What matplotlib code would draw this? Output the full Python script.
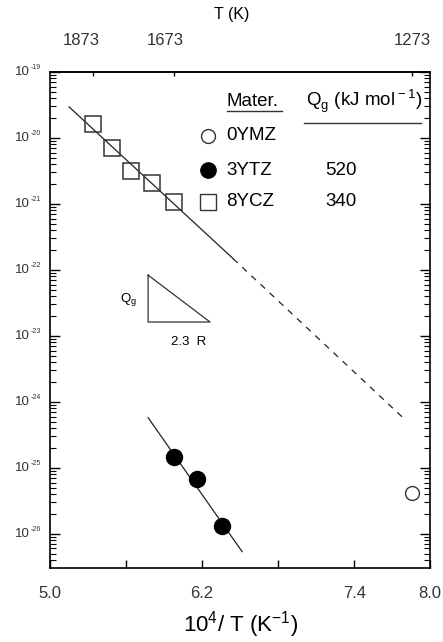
import numpy as np
import matplotlib
matplotlib.use("Agg")
import matplotlib.pyplot as plt
import matplotlib.transforms as mtrans
from matplotlib.ticker import FixedLocator, LogLocator, NullFormatter

plt.rcParams['font.family'] = ['Liberation Sans', 'DejaVu Sans']
plt.rcParams['mathtext.fontset'] = 'custom'
plt.rcParams['mathtext.rm'] = 'Liberation Sans'

# ---- data (x = 10^4 / T, y = log-scale quantity) ----
x_8ycz = [5.339, 5.485, 5.640, 5.804, 5.977]
y_8ycz = [1.6e-20, 7.1e-21, 3.2e-21, 2.1e-21, 1.07e-21]

x_3ytz = [5.977, 6.161, 6.357]
y_3ytz = [1.48e-25, 6.8e-26, 1.32e-26]

x_0ymz = [7.855]
y_0ymz = [4.1e-26]

fit8_solid_x = [5.15, 6.445]
fit8_solid_y = [10**-19.53, 10**-21.83]
fit8_dash_x = [6.445, 7.78]
fit8_dash_y = [10**-21.83, 10**-24.23]

fit3_x = [5.774, 6.516]
fit3_y = [10**-24.24, 10**-26.27]

materials = ['0YMZ', '3YTZ', '8YCZ']
q_values = ['', '520', '340']

top_T = [1873, 1673, 1273]
x_ticklabels = [5.0, 6.2, 7.4, 8.0]
x_minor = [5.6, 6.8]
y_decades = [-19, -20, -21, -22, -23, -24, -25, -26]

fig = plt.figure(figsize=(4.43, 6.42), dpi=100)
ax = fig.add_axes([0.113, 0.115, 0.858, 0.773])

ax.set_yscale('log')
ax.set_xlim(5.0, 8.0)
ax.set_ylim(10**-26.52, 1e-19)

lw = 0.9
ax.plot(fit8_solid_x, fit8_solid_y, color='#222222', lw=lw)
ax.plot(fit8_dash_x, fit8_dash_y, color='#222222', lw=lw, ls=(0, (5, 5)))
ax.plot(fit3_x, fit3_y, color='#222222', lw=lw)

ax.plot(x_8ycz, y_8ycz, ls='none', marker='s', ms=11.5, mfc='none', mec='#333333', mew=1.1)
ax.plot(x_3ytz, y_3ytz, ls='none', marker='o', ms=11.5, mfc='black', mec='black')
ax.plot(x_0ymz, y_0ymz, ls='none', marker='o', ms=10, mfc='white', mec='#333333', mew=1.0)

# triangle (slope indicator)
tri_x = [5.774, 5.774, 6.263, 5.774]
tri_y = [10**-22.08, 10**-22.79, 10**-22.79, 10**-22.08]
ax.plot(tri_x, tri_y, color='#333333', lw=lw)
ax.text(5.62, 10**-22.45, r'Q$_{\rm g}$', fontsize=9.5, ha='center', va='center')
ax.text(6.09, 10**-23.1, '2.3  R', fontsize=9.5, ha='center', va='center')

# axes styling
for s in ax.spines.values():
    s.set_linewidth(1.2)

ax.xaxis.set_major_locator(FixedLocator(x_ticklabels))
ax.xaxis.set_minor_locator(FixedLocator(x_minor))
ax.set_xticklabels(['%.1f' % v for v in x_ticklabels], fontsize=12, color='#333333')
ax.tick_params(axis='x', which='both', direction='in', length=6, width=1, pad=13, top=False)

ax.yaxis.set_major_locator(LogLocator(base=10, numticks=20))
ax.yaxis.set_minor_locator(LogLocator(base=10, subs=np.arange(2, 10), numticks=20))
ax.yaxis.set_minor_formatter(NullFormatter())
ax.yaxis.set_major_formatter(NullFormatter())
ax.tick_params(axis='y', which='major', direction='in', length=7, width=1, right=True)
ax.tick_params(axis='y', which='minor', direction='in', length=4, width=0.8, right=True)

# y tick labels: "10" with a tiny exponent
btr = mtrans.blended_transform_factory(ax.transAxes, ax.transData)
for d in y_decades:
    ax.text(-0.052, 10.0**d, '10', transform=btr, fontsize=9.5, ha='right', va='center',
            color='#333333')
    ax.text(-0.052, 10.0**(d + 0.07), str(d), transform=btr, fontsize=5, ha='left',
            va='center', color='#333333')

# top axis: temperature
ax2 = ax.secondary_xaxis('top', functions=(lambda x: x, lambda x: x))
ax2.set_xticks([1e4 / t for t in top_T])
ax2.set_xticklabels([str(t) for t in top_T], fontsize=12, color='#333333')
ax2.tick_params(direction='in', length=3, width=1, pad=17)
ax2.spines['top'].set_linewidth(1.2)
top_shift_pt = [-8.5, -6.5, 0.0]
for lab, sh in zip(ax2.get_xticklabels(), top_shift_pt):
    lab.set_transform(lab.get_transform() + mtrans.ScaledTranslation(sh / 72, 0, fig.dpi_scale_trans))
fig.text(232 / 443, 1 - 14 / 642, 'T (K)', fontsize=11.5, ha='center', va='center')

ax.set_xlabel(r'10$^4$/ T (K$^{-1}$)', fontsize=16, labelpad=6)

# legend drawn in axes coordinates
tr = ax.transAxes
leg_y = [0.871, 0.802, 0.738]
leg_markers = [dict(marker='o', ms=10, mfc='white', mec='#333333'),
               dict(marker='o', ms=11, mfc='black', mec='black'),
               dict(marker='s', ms=11.5, mfc='none', mec='#333333')]
for yy, name, q, mk in zip(leg_y, materials, q_values, leg_markers):
    ax.plot([0.416], [yy], transform=tr, ls='none', mew=1.0, **mk)
    ax.text(0.463, yy, name, transform=tr, fontsize=13.5, va='center', ha='left')
    if q:
        ax.text(0.765, yy, q, transform=tr, fontsize=13.5, va='center', ha='center')

ax.text(0.463, 0.940, 'Mater.', transform=tr, fontsize=13.5, va='center', ha='left')
ax.plot([0.466, 0.61], [0.921, 0.921], transform=tr, color='#333333', lw=1.0)
ax.text(0.674, 0.940, r'Q$_{\rm g}$ (kJ mol$^{\rm -1}$)', transform=tr, fontsize=13.5,
        va='center', ha='left')
ax.plot([0.668, 0.976], [0.897, 0.897], transform=tr, color='#333333', lw=1.0)

fig.savefig('out.png', dpi=100)
